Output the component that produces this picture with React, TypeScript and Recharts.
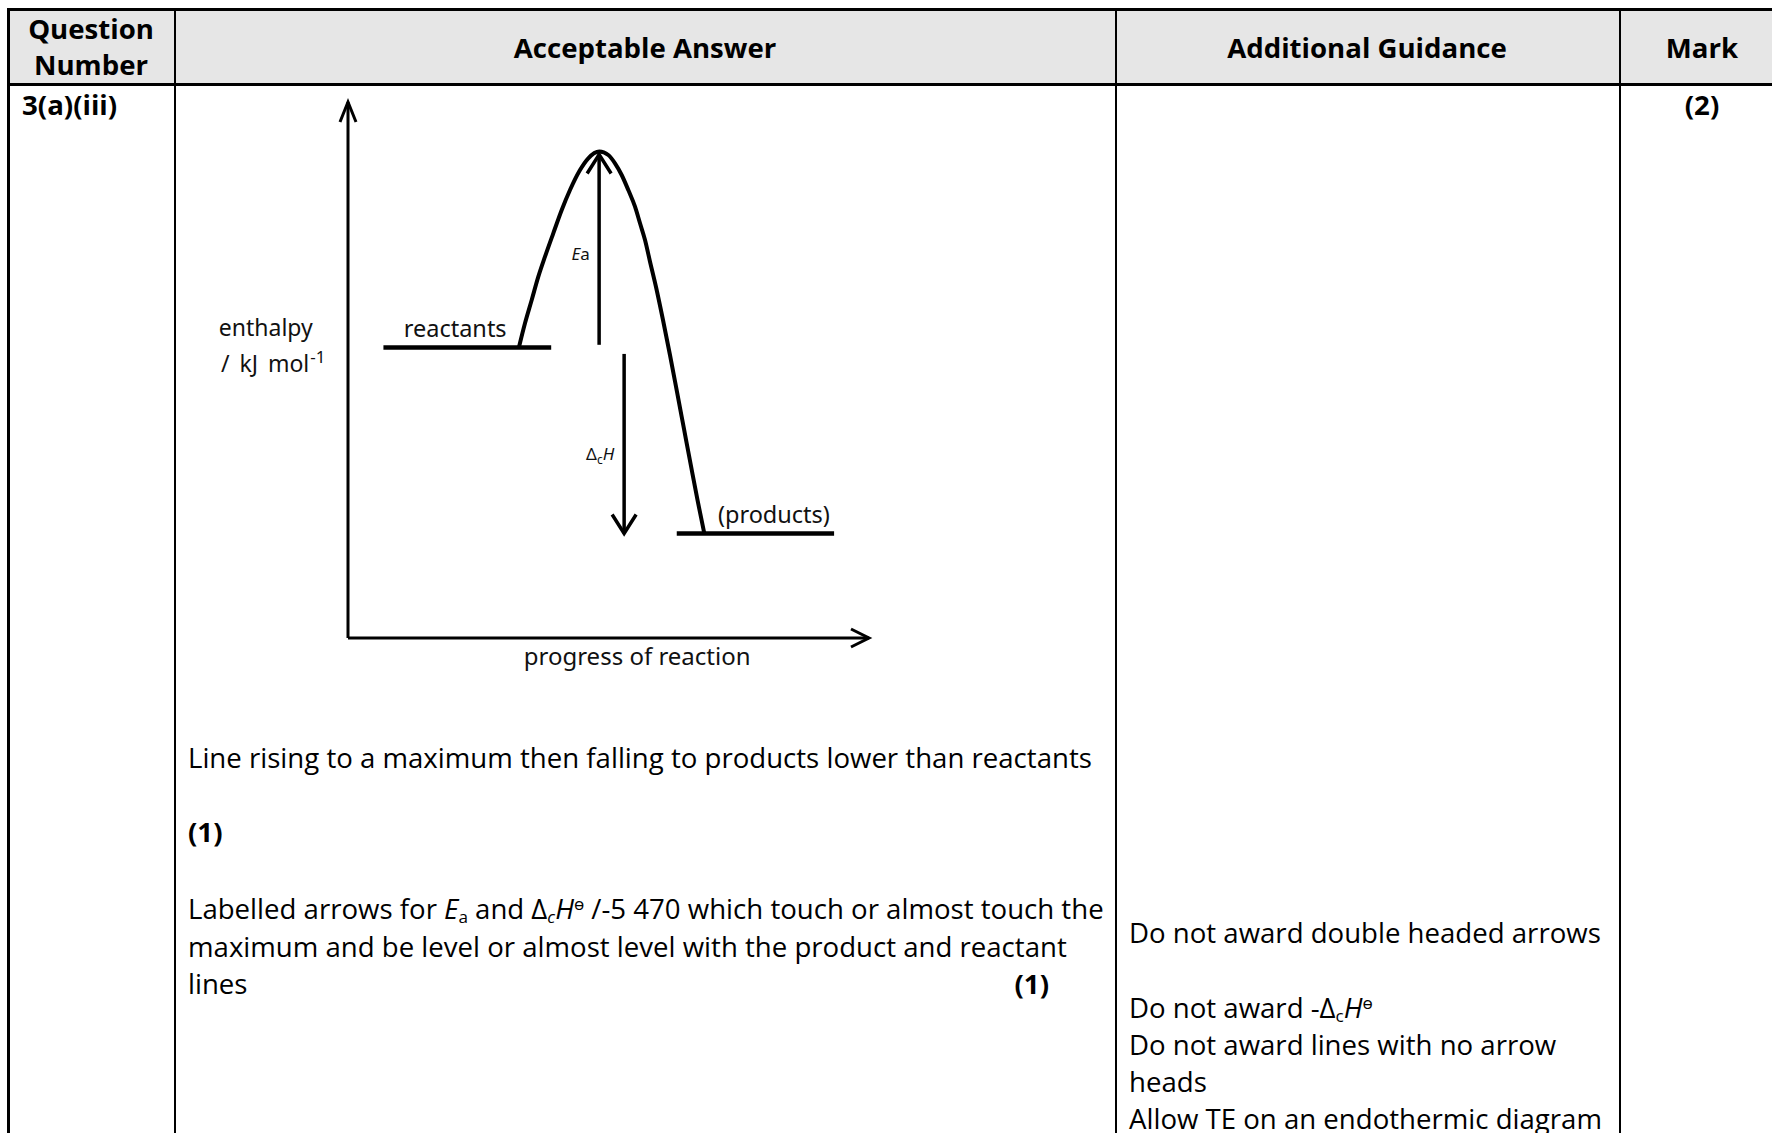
import React from "react"
import { ComposedChart, Line, XAxis, YAxis, ReferenceLine, ReferenceDot } from "recharts"

// reaction profile (progress of reaction 0-100, enthalpy 0-100)
const profileProgress = [
  32.8, 33.97, 35.26, 36.53, 37.81, 39.4, 41.02, 42.61, 44.53, 46.12, 48.23,
  49.96, 51.25, 52.53, 53.8, 55.09, 56.05, 57.01, 57.97, 59.12, 60.46, 61.8, 63.15, 64.49, 65.83, 67.08, 68.39,
]
const profileEnthalpy = [
  54.2, 58.71, 63.06, 67.41, 71.14, 75.5, 79.85, 83.58, 87.31, 89.5, 90.75,
  90.11, 88.56, 86.38, 83.58, 80.47, 77.37, 74.25, 70.21, 65.49, 59.33, 52.8, 45.9, 39.0, 32.1, 25.75, 19.5,
]

const levelNames = ["reactants", "(products)"]
const levelEnthalpy = [54.2, 19.5]
const levelStart = [6.8, 63.1]
const levelEnd = [39.0, 93.3]

// arrows: Ea (up) and ΔcH (down)
const arrowNames = ["Ea", "dH"]
const arrowProgress = [48.2, 53.0]
const arrowFrom = [54.7, 53.0]
const arrowTo = [90.2, 19.5]

const headers = ["Question", "Number", "Acceptable Answer", "Additional Guidance", "Mark"]
const questionNumber = "3(a)(iii)"
const totalMark = "(2)"

const profileData = profileProgress.map((p, i) => ({ progress: p, enthalpy: profileEnthalpy[i] }))

const FONT = "'Open Sans', sans-serif"
const DIAGRAM_FONT = "'Noto Sans', sans-serif"

function arrowShape(headLen: number, headHalf: number, width: number) {
  return (p: any) => {
    const { x1, y1, x2, y2 } = p
    const dx = x2 - x1
    const dy = y2 - y1
    const len = Math.hypot(dx, dy) || 1
    const ux = dx / len
    const uy = dy / len
    const bx = x2 - ux * headLen
    const by = y2 - uy * headLen
    const px = -uy * headHalf
    const py = ux * headHalf
    return (
      <g>
        <line x1={x1} y1={y1} x2={x2} y2={y2} stroke="#000" strokeWidth={width} />
        <polyline
          points={`${bx + px},${by + py} ${x2},${y2} ${bx - px},${by - py}`}
          fill="none"
          stroke="#000"
          strokeWidth={width}
        />
      </g>
    )
  }
}

const textLabel = (content: React.ReactNode, size: number, anchor: "start" | "middle" = "start", wordSpacing = 0) => (p: any) => (
  <text
    x={p.viewBox.x}
    y={p.viewBox.y}
    fontFamily={DIAGRAM_FONT}
    fontSize={size}
    fill="#111"
    textAnchor={anchor}
    style={{ wordSpacing }}
  >
    {content}
  </text>
)

function Diagram() {
  return (
    <ComposedChart
      width={720}
      height={600}
      data={profileData}
      margin={{ top: 12, right: 31, bottom: 52, left: 168 }}
    >
      <XAxis type="number" dataKey="progress" domain={[0, 100]} hide height={0} />
      <YAxis type="number" domain={[0, 100]} hide width={0} />
      {/* axes */}
      <ReferenceLine segment={[{ x: 0, y: 0 }, { x: 0, y: 100 }]} ifOverflow="visible" shape={arrowShape(20, 8, 3)} />
      <ReferenceLine segment={[{ x: 0, y: 0 }, { x: 100, y: 0 }]} ifOverflow="visible" shape={arrowShape(18, 9, 3)} />
      {/* enthalpy levels */}
      {levelNames.map((name, i) => (
        <ReferenceLine
          key={name}
          segment={[{ x: levelStart[i], y: levelEnthalpy[i] }, { x: levelEnd[i], y: levelEnthalpy[i] }]}
          ifOverflow="visible"
          stroke="#000"
          strokeWidth={4.5}
        />
      ))}
      <Line
        type="monotone"
        dataKey="enthalpy"
        stroke="#000"
        strokeWidth={4}
        dot={false}
        activeDot={false}
        isAnimationActive={false}
      />
      {arrowNames.map((name, i) => (
        <ReferenceLine
          key={name}
          segment={[{ x: arrowProgress[i], y: arrowFrom[i] }, { x: arrowProgress[i], y: arrowTo[i] }]}
          ifOverflow="visible"
          shape={arrowShape(19, 12, 3.5)}
        />
      ))}
      {/* labels */}
      <ReferenceDot x={-24.8} y={56.3} r={0} fill="none" stroke="none" ifOverflow="visible" label={textLabel("enthalpy", 23)} />
      <ReferenceDot
        x={-24.4}
        y={49.7}
        r={0}
        fill="none"
        stroke="none"
        ifOverflow="visible"
        label={textLabel(
          <>
            / kJ mol<tspan dx={1} dy={-9} fontSize={17}>-1</tspan>
          </>,
          23,
          "start",
          4
        )}
      />
      <ReferenceDot x={10.7} y={56.1} r={0} fill="none" stroke="none" ifOverflow="visible" label={textLabel(levelNames[0], 23.5)} />
      <ReferenceDot x={71.0} y={21.5} r={0} fill="none" stroke="none" ifOverflow="visible" label={textLabel(levelNames[1], 23.5)} />
      <ReferenceDot
        x={42.9}
        y={70.5}
        r={0}
        fill="none"
        stroke="none"
        ifOverflow="visible"
        label={textLabel(
          <>
            <tspan fontStyle="italic">E</tspan>a
          </>,
          17
        )}
      />
      <ReferenceDot
        x={45.7}
        y={33.2}
        r={0}
        fill="none"
        stroke="none"
        ifOverflow="visible"
        label={textLabel(
          <>
            Δ<tspan dy={4} fontSize={12}>c</tspan>
            <tspan dy={-4} fontStyle="italic">H</tspan>
          </>,
          17
        )}
      />
      <ReferenceDot
        x={55.5}
        y={-5.0}
        r={0}
        fill="none"
        stroke="none"
        ifOverflow="visible"
        label={textLabel("progress of reaction", 24, "middle")}
      />
    </ComposedChart>
  )
}

// text placed by its visual centre line
function Txt({
  x,
  y,
  size = 27.6,
  bold = false,
  align = "left",
  width = 0,
  children,
}: {
  x: number
  y: number
  size?: number
  bold?: boolean
  align?: "left" | "center" | "right"
  width?: number
  children: React.ReactNode
}) {
  const lh = size * 1.362
  let left = x
  if (align === "center") left = x - width / 2
  if (align === "right") left = x - width
  return (
    <div
      style={{
        position: "absolute",
        left,
        top: y - size * 0.7,
        width: align === "left" ? undefined : width,
        textAlign: align,
        whiteSpace: "nowrap",
        fontFamily: FONT,
        fontSize: size,
        fontWeight: bold ? 700 : 400,
        lineHeight: `${lh}px`,
        color: "#000",
      }}
    >
      {children}
    </div>
  )
}

const sub = (t: string, italic = false) => (
  <span style={{ fontSize: "0.62em", verticalAlign: "-0.25em", lineHeight: 0, fontStyle: italic ? "italic" : "normal" }}>{t}</span>
)
const sup = (t: string) => <span style={{ fontSize: "0.62em", verticalAlign: "0.55em", lineHeight: 0 }}>{t}</span>

function Rule({ x, y, w, h }: { x: number; y: number; w: number; h: number }) {
  return <div style={{ position: "absolute", left: x, top: y, width: w, height: h, background: "#000" }} />
}

export default function App() {
  const colLines = [173.5, 1114.5, 1618.5]
  return (
    <div style={{ position: "absolute", left: 0, top: 0, width: 1772, height: 1133, overflow: "hidden", background: "#fff" }}>
      {/* header background */}
      <div style={{ position: "absolute", left: 8, top: 9, width: 1772, height: 75, background: "#e6e6e6" }} />
      {/* borders */}
      <Rule x={7} y={8} w={1772} h={3} />
      <Rule x={7} y={8} w={3} h={1133} />
      <Rule x={7} y={83} w={1772} h={2.5} />
      {colLines.map((x) => (
        <Rule key={x} x={x} y={8} w={2.5} h={1133} />
      ))}

      {/* header texts */}
      <Txt x={91} y={29} bold align="center" width={160}>{headers[0]}</Txt>
      <Txt x={91} y={65} bold align="center" width={160}>{headers[1]}</Txt>
      <Txt x={645} y={48} bold align="center" width={900}>{headers[2]}</Txt>
      <Txt x={1367} y={48} bold align="center" width={480}>{headers[3]}</Txt>
      <Txt x={1702} y={48} bold align="center" width={150}>{headers[4]}</Txt>

      <Txt x={22} y={105} bold>{questionNumber}</Txt>
      <Txt x={1702} y={105} bold align="center" width={150}>{totalMark}</Txt>

      {/* diagram */}
      <div style={{ position: "absolute", left: 180, top: 90 }}>
        <Diagram />
      </div>

      {/* acceptable answer text */}
      <Txt x={188} y={758}>Line rising to a maximum then falling to products lower than reactants</Txt>
      <Txt x={188} y={832} bold>(1)</Txt>
      <Txt x={188} y={909}>
        Labelled arrows for <i>E</i>{sub("a")} and Δ{sub("c", true)}<i>H</i>{sup("ө")} /-5 470 which touch or almost touch the
      </Txt>
      <Txt x={188} y={947}>maximum and be level or almost level with the product and reactant</Txt>
      <Txt x={188} y={984}>lines</Txt>
      <Txt x={1049} y={984} bold align="right" width={60}>(1)</Txt>

      {/* additional guidance */}
      <Txt x={1129} y={933}>Do not award double headed arrows</Txt>
      <Txt x={1129} y={1008}>
        Do not award -Δ{sub("c")}<i>H</i>{sup("ө")}
      </Txt>
      <Txt x={1129} y={1045}>Do not award lines with no arrow</Txt>
      <Txt x={1129} y={1082}>heads</Txt>
      <Txt x={1129} y={1119}>Allow TE on an endothermic diagram</Txt>
    </div>
  )
}
